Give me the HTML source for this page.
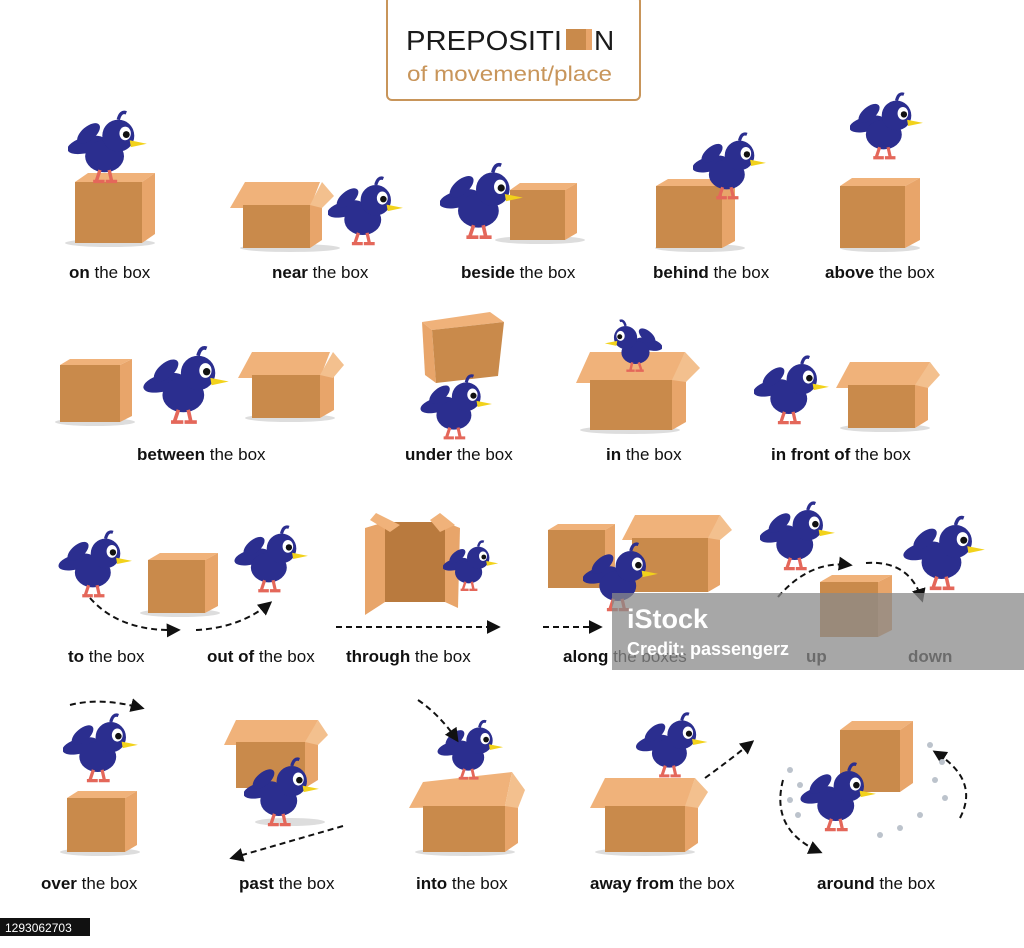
<!DOCTYPE html>
<html><head><meta charset="utf-8"><style>
html,body{margin:0;padding:0;background:#fff;width:1024px;height:948px;overflow:hidden}
svg{display:block}
text{font-family:"Liberation Sans",sans-serif;font-size:17px;fill:#111}
.b{font-weight:bold}
</style></head><body>
<svg width="1024" height="948" viewBox="0 0 1024 948">
<defs>
<symbol id="bird" viewBox="0 0 70 70">
<ellipse cx="16" cy="34" rx="17" ry="7" fill="#2B2E8F" transform="rotate(-15 16 34)"/>
<ellipse cx="18" cy="24" rx="12" ry="6" fill="#2B2E8F" transform="rotate(-40 18 24)"/>
<ellipse cx="32" cy="44" rx="17" ry="14" fill="#2B2E8F"/>
<circle cx="44" cy="26" r="14" fill="#2B2E8F"/>
<path d="M44 12 q2 -8 7 -6" stroke="#2B2E8F" stroke-width="3" fill="none"/>
<ellipse cx="50" cy="24" rx="5" ry="6" fill="#fff"/>
<circle cx="51" cy="25" r="3" fill="#111"/>
<polygon points="54,30 69,33 55,36" fill="#F2D21B"/>
<path d="M28 56 l-3 9 M36 56 l2 9 M22 66 h10 M33 66 h10" stroke="#E4675A" stroke-width="3"/>
</symbol>
<symbol id="birdL" viewBox="0 0 70 70"><g transform="translate(70 0) scale(-1 1)"><use href="#bird" width="70" height="70"/></g></symbol>
<marker id="ah" viewBox="0 0 10 10" refX="8" refY="5" markerWidth="7" markerHeight="7" orient="auto"><path d="M0 0L10 5L0 10z" fill="#111"/></marker>
</defs>

<!-- title -->
<rect x="387" y="-4" width="253" height="104" rx="5" fill="#fff" stroke="#C8955A" stroke-width="2"/>
<text x="406" y="50" textLength="156" lengthAdjust="spacingAndGlyphs" style="font-size:28px;fill:#1a1a1a">PREPOSITI</text>
<rect x="566" y="29" width="20" height="21" fill="#C98A4B"/><rect x="586" y="29" width="6" height="21" fill="#E8A56A"/>
<text x="594" y="50" style="font-size:28px;fill:#1a1a1a">N</text>
<text x="407" y="81" textLength="205" lengthAdjust="spacingAndGlyphs" style="font-size:21px;fill:#C8955A">of movement/place</text>

<g id="shadows" fill="#ddd">
<ellipse cx="110" cy="243" rx="45" ry="4"/><ellipse cx="290" cy="248" rx="50" ry="4"/><ellipse cx="540" cy="240" rx="45" ry="4"/>
<ellipse cx="700" cy="248" rx="45" ry="4"/><ellipse cx="880" cy="248" rx="40" ry="4"/>
<ellipse cx="95" cy="422" rx="40" ry="4"/><ellipse cx="290" cy="418" rx="45" ry="4"/><ellipse cx="630" cy="430" rx="50" ry="4"/>
<ellipse cx="885" cy="428" rx="45" ry="4"/><ellipse cx="180" cy="613" rx="40" ry="4"/><ellipse cx="100" cy="852" rx="40" ry="4"/>
<ellipse cx="465" cy="852" rx="50" ry="4"/><ellipse cx="645" cy="852" rx="50" ry="4"/><ellipse cx="290" cy="822" rx="35" ry="4"/>
</g>

<g stroke="none">
<g><polygon points="75,182 88,173 155,173 142,182" fill="#F0B27A"/><rect x="75" y="182" width="67" height="61" fill="#C98A4B"/><polygon points="142,182 155,173 155,234 142,243" fill="#E8A56A"/></g>
<g><polygon points="230,208 245,182 320,182 310,208" fill="#F0B27A"/><rect x="243" y="205" width="67" height="43" fill="#C98A4B"/><polygon points="310,205 322,195 322,240 310,248" fill="#E8A56A"/><polygon points="310,205 322,182 334,196 322,208" fill="#F3C08E"/></g>
<g><polygon points="510,190 520,183 577,183 565,190" fill="#F0B27A"/><rect x="510" y="190" width="55" height="50" fill="#C98A4B"/><polygon points="565,190 577,183 577,233 565,240" fill="#E8A56A"/></g>
<g><polygon points="656,186 668,179 735,179 722,186" fill="#F0B27A"/><rect x="656" y="186" width="66" height="62" fill="#C98A4B"/><polygon points="722,186 735,179 735,241 722,248" fill="#E8A56A"/></g>
<g><polygon points="840,186 852,178 920,178 905,186" fill="#F0B27A"/><rect x="840" y="186" width="65" height="62" fill="#C98A4B"/><polygon points="905,186 920,178 920,240 905,248" fill="#E8A56A"/></g>

<g><polygon points="60,365 70,359 132,359 120,365" fill="#F0B27A"/><rect x="60" y="365" width="60" height="57" fill="#C98A4B"/><polygon points="120,365 132,359 132,416 120,422" fill="#E8A56A"/></g>
<g><polygon points="238,378 252,352 330,352 320,378" fill="#F0B27A"/><rect x="252" y="375" width="68" height="43" fill="#C98A4B"/><polygon points="320,375 334,364 334,410 320,418" fill="#E8A56A"/><polygon points="320,375 333,352 344,365 333,378" fill="#F3C08E"/></g>
<g><polygon points="422,322 490,312 504,322 432,330" fill="#F0B27A"/><polygon points="422,322 432,330 436,383 425,375" fill="#E8A56A"/><polygon points="432,330 504,322 498,376 436,383" fill="#C98A4B"/></g>
<g><polygon points="576,383 590,352 685,352 672,383" fill="#F0B27A"/><rect x="590" y="380" width="82" height="50" fill="#C98A4B"/><polygon points="672,380 686,370 686,422 672,430" fill="#E8A56A"/><polygon points="672,380 685,352 700,368 686,382" fill="#F3C08E"/></g>
<g><polygon points="836,388 850,362 930,362 915,388" fill="#F0B27A"/><rect x="848" y="385" width="67" height="43" fill="#C98A4B"/><polygon points="915,385 928,375 928,420 915,428" fill="#E8A56A"/><polygon points="915,385 930,362 940,375 928,388" fill="#F3C08E"/></g>

<g><polygon points="148,560 160,553 218,553 205,560" fill="#F0B27A"/><rect x="148" y="560" width="57" height="53" fill="#C98A4B"/><polygon points="205,560 218,553 218,606 205,613" fill="#E8A56A"/></g>
<g><rect x="385" y="522" width="60" height="80" fill="#B97A3E"/><polygon points="365,528 385,522 385,602 365,615" fill="#E8A56A"/><polygon points="445,522 460,528 458,608 445,602" fill="#E8A56A"/><polygon points="370,520 376,513 400,525 390,532" fill="#F0B27A"/><polygon points="430,520 440,513 455,525 440,532" fill="#F0B27A"/></g>
<g><polygon points="548,530 558,524 615,524 605,530" fill="#F0B27A"/><rect x="548" y="530" width="57" height="58" fill="#C98A4B"/><polygon points="605,530 615,524 615,582 605,588" fill="#E8A56A"/></g>
<g><polygon points="622,540 635,515 720,515 708,540" fill="#F0B27A"/><rect x="632" y="538" width="76" height="54" fill="#C98A4B"/><polygon points="708,538 720,528 720,585 708,592" fill="#E8A56A"/><polygon points="708,538 720,515 732,530 720,540" fill="#F3C08E"/></g>
<g><polygon points="820,582 832,575 892,575 878,582" fill="#F0B27A"/><rect x="820" y="582" width="58" height="55" fill="#C98A4B"/><polygon points="878,582 892,575 892,630 878,637" fill="#E8A56A"/></g>

<g><polygon points="67,798 78,791 137,791 125,798" fill="#F0B27A"/><rect x="67" y="798" width="58" height="54" fill="#C98A4B"/><polygon points="125,798 137,791 137,845 125,852" fill="#E8A56A"/></g>
<g><polygon points="224,745 236,720 318,720 305,745" fill="#F0B27A"/><rect x="236" y="742" width="69" height="46" fill="#C98A4B"/><polygon points="305,742 318,732 318,780 305,788" fill="#E8A56A"/><polygon points="305,742 318,720 328,735 318,745" fill="#F3C08E"/></g>
<g><polygon points="409,808 423,782 512,772 505,806" fill="#F0B27A"/><rect x="423" y="806" width="82" height="46" fill="#C98A4B"/><polygon points="505,806 518,795 518,843 505,852" fill="#E8A56A"/><polygon points="505,806 512,772 525,790 518,808" fill="#F3C08E"/></g>
<g><polygon points="590,808 605,778 695,778 685,808" fill="#F0B27A"/><rect x="605" y="806" width="80" height="46" fill="#C98A4B"/><polygon points="685,806 698,795 698,843 685,852" fill="#E8A56A"/><polygon points="685,806 695,778 708,792 698,808" fill="#F3C08E"/></g>
<g><polygon points="840,730 852,721 913,721 900,730" fill="#F0B27A"/><rect x="840" y="730" width="60" height="62" fill="#C98A4B"/><polygon points="900,730 913,721 913,783 900,792" fill="#E8A56A"/></g>
</g>

<use href="#bird" x="68" y="106" width="80" height="80"/>
<use href="#bird" x="328" y="172" width="76" height="76"/>
<use href="#bird" x="440" y="158" width="84" height="84"/>
<use href="#bird" x="693" y="128" width="74" height="74"/>
<use href="#bird" x="850" y="86" width="74" height="78"/>
<use href="#bird" x="143" y="341" width="88" height="86"/>
<use href="#bird" x="416" y="370" width="82" height="72"/>
<use href="#birdL" x="593" y="316" width="80" height="58"/>
<use href="#bird" x="754" y="348" width="76" height="82"/>
<use href="#bird" x="55" y="526" width="82" height="74"/>
<use href="#bird" x="231" y="521" width="82" height="74"/>
<use href="#bird" x="443" y="528" width="56" height="74"/>
<use href="#bird" x="583" y="538" width="76" height="76"/>
<use href="#bird" x="760" y="496" width="76" height="78"/>
<use href="#bird" x="903" y="511" width="84" height="82"/>
<use href="#bird" x="63" y="706" width="76" height="82"/>
<use href="#bird" x="244" y="750" width="76" height="82"/>
<use href="#bird" x="430" y="716" width="82" height="66"/>
<use href="#bird" x="628" y="708" width="89" height="72"/>
<use href="#bird" x="798" y="758" width="82" height="76"/>

<g fill="none" stroke="#111" stroke-width="2" stroke-dasharray="6 4" marker-end="url(#ah)">
<path d="M90 598 Q120 632 178 630"/>
<path d="M196 630 Q240 628 270 603"/>
<path d="M336 627 H498"/>
<path d="M543 627 H600"/>
<path d="M778 597 Q810 560 850 565"/>
<path d="M866 563 Q910 560 922 600"/>
<path d="M70 705 Q100 697 142 708"/>
<path d="M343 826 L232 858"/>
<path d="M418 700 Q440 715 457 740"/>
<path d="M705 778 Q730 760 752 742"/>
<path d="M783 780 Q770 830 820 852"/>
<path d="M960 818 Q980 780 935 752"/>
</g>
<g fill="#bcc3cc">
<circle cx="790" cy="770" r="3"/><circle cx="800" cy="785" r="3"/><circle cx="790" cy="800" r="3"/><circle cx="798" cy="815" r="3"/>
<circle cx="930" cy="745" r="3"/><circle cx="942" cy="762" r="3"/><circle cx="935" cy="780" r="3"/><circle cx="945" cy="798" r="3"/><circle cx="920" cy="815" r="3"/><circle cx="900" cy="828" r="3"/><circle cx="880" cy="835" r="3"/>
</g>

<g>
<text x="69" y="278"><tspan class="b">on</tspan> the box</text>
<text x="272" y="278"><tspan class="b">near</tspan> the box</text>
<text x="461" y="278"><tspan class="b">beside</tspan> the box</text>
<text x="653" y="278"><tspan class="b">behind</tspan> the box</text>
<text x="825" y="278"><tspan class="b">above</tspan> the box</text>
<text x="137" y="460"><tspan class="b">between</tspan> the box</text>
<text x="405" y="460"><tspan class="b">under</tspan> the box</text>
<text x="606" y="460"><tspan class="b">in</tspan> the box</text>
<text x="771" y="460"><tspan class="b">in front of</tspan> the box</text>
<text x="68" y="662"><tspan class="b">to</tspan> the box</text>
<text x="207" y="662"><tspan class="b">out of</tspan> the box</text>
<text x="346" y="662"><tspan class="b">through</tspan> the box</text>
<text x="563" y="662"><tspan class="b">along</tspan> the boxes</text>
<text x="806" y="662" class="b">up</text>
<text x="908" y="662" class="b">down</text>
<text x="41" y="889"><tspan class="b">over</tspan> the box</text>
<text x="239" y="889"><tspan class="b">past</tspan> the box</text>
<text x="416" y="889"><tspan class="b">into</tspan> the box</text>
<text x="590" y="889"><tspan class="b">away from</tspan> the box</text>
<text x="817" y="889"><tspan class="b">around</tspan> the box</text>
</g>

<rect x="612" y="593" width="412" height="77" fill="#8a8a8a" opacity="0.75"/>
<text x="627" y="628" style="font-size:27px;fill:#fff;font-weight:bold">iStock</text>
<text x="627" y="655" style="font-size:18px;fill:#fff;font-weight:bold">Credit: passengerz</text>
<rect x="0" y="918" width="90" height="18" fill="#111"/>
<text x="5" y="932" style="font-size:12px;fill:#fff">1293062703</text>
</svg>
</body></html>
